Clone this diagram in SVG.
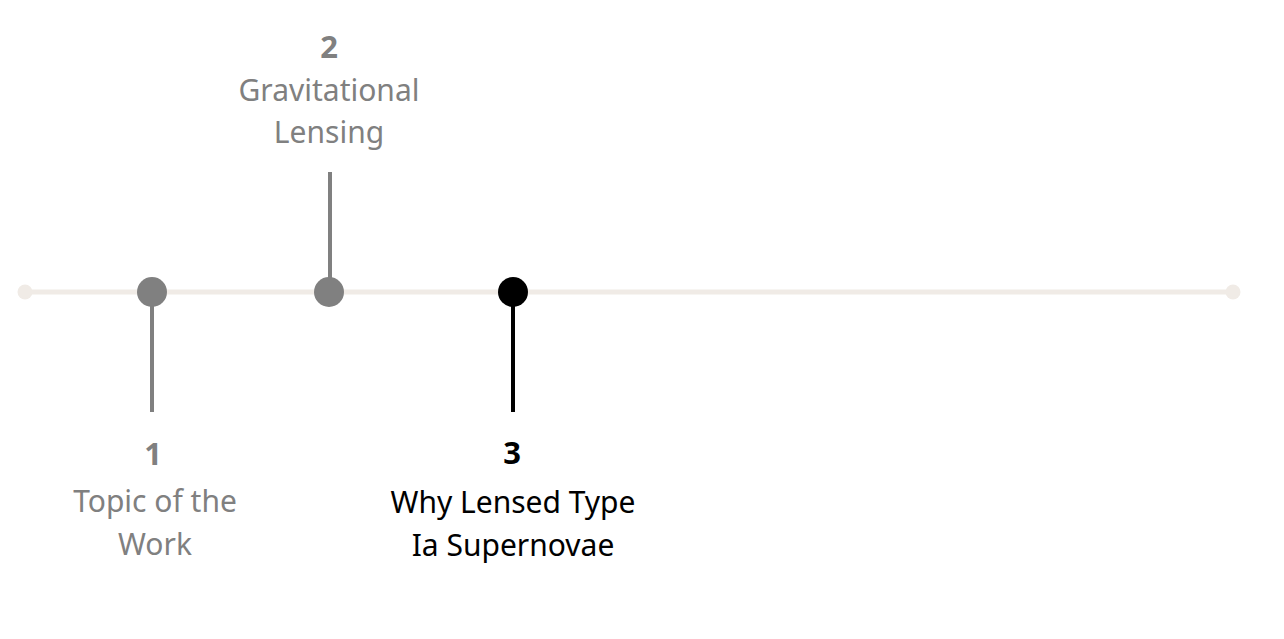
<svg xmlns="http://www.w3.org/2000/svg" width="1284" height="639" viewBox="0 0 1284 639">
<style>
.num{font-family:"Noto Sans","Liberation Sans",sans-serif;font-weight:bold;font-size:31px;text-anchor:middle}
.lbl{font-family:"Noto Sans","Liberation Sans",sans-serif;font-size:30px;text-anchor:middle}
.grey{fill:#808080}
.blk{fill:#000}
.stemg{stroke:#808080;stroke-width:4}
.stemb{stroke:#000;stroke-width:4}
</style>
<rect width="1284" height="639" fill="#fff"/>
<g id="axis">
<line x1="25" y1="292" x2="1233" y2="292" stroke="#f0ebe6" stroke-width="5"/>
<circle cx="25" cy="292" r="7.5" fill="#f0ebe6"/>
<circle cx="1233" cy="292" r="7.5" fill="#f0ebe6"/>
</g>
<g id="connectors">
<line class="stemg" x1="152" y1="292" x2="152" y2="412"/>
<line class="stemg" x1="330" y1="172" x2="330" y2="292"/>
<line class="stemb" x1="513" y1="292" x2="513" y2="412"/>
</g>
<g id="node1">
<circle cx="152" cy="292" r="15" fill="#808080"/>
<text class="num grey" x="153" y="465">1</text>
<text class="lbl grey" x="155" y="512">Topic of the</text>
<text class="lbl grey" x="155" y="555">Work</text>
</g>
<g id="node2">
<circle cx="329" cy="292" r="15" fill="#808080"/>
<text class="num grey" x="329" y="58">2</text>
<text class="lbl grey" x="329" y="101">Gravitational</text>
<text class="lbl grey" x="329" y="143">Lensing</text>
</g>
<g id="node3">
<circle cx="513" cy="292" r="15" fill="#000"/>
<text class="num blk" x="512" y="464">3</text>
<text class="lbl blk" x="513" y="513">Why Lensed Type</text>
<text class="lbl blk" x="513" y="556">Ia Supernovae</text>
</g>
</svg>
